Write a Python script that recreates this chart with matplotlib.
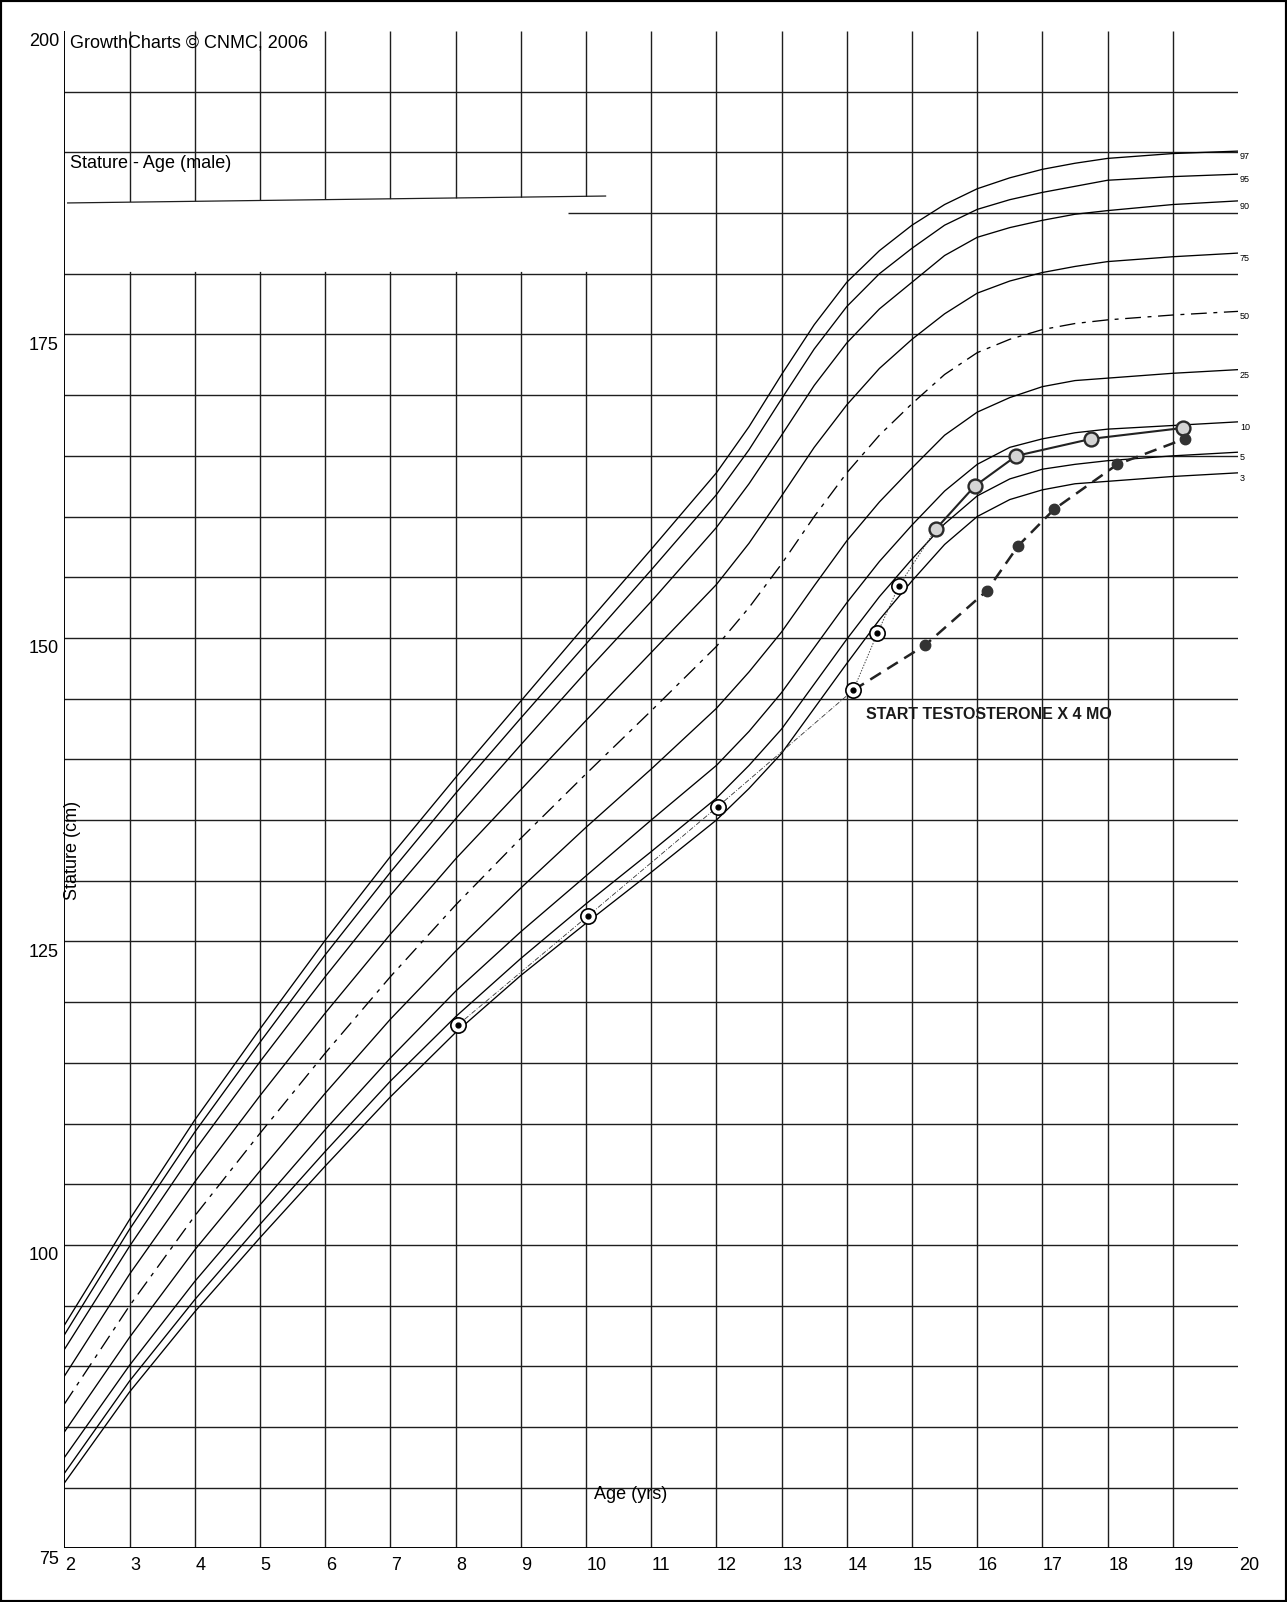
import matplotlib
matplotlib.use("Agg")
import matplotlib.pyplot as plt
from matplotlib.patches import Polygon, Rectangle

plt.rcParams['font.family'] = ['Liberation Sans', 'DejaVu Sans']

# CDC stature-for-age (male)
ages = [2, 3, 4, 5, 6, 7, 8, 9, 10, 11, 12, 12.5, 13, 13.5, 14, 14.5, 15, 15.5,
        16, 16.5, 17, 17.5, 18, 19, 20]
p3 = [80.4, 87.9, 94.5, 100.6, 106.5, 112.2, 117.5, 122.2, 126.5, 130.7, 135.0, 137.6, 140.5,
      144.2, 147.9, 151.5, 154.7, 157.7, 160.0, 161.4, 162.2, 162.7, 162.9, 163.3, 163.6]
p5 = [81.2, 88.8, 95.5, 101.7, 107.7, 113.5, 118.8, 123.6, 128.1, 132.4, 136.8, 139.5, 142.5,
      146.2, 149.9, 153.4, 156.5, 159.4, 161.7, 163.1, 163.9, 164.3, 164.6, 165.0, 165.3]
p10 = [82.5, 90.1, 97.0, 103.3, 109.5, 115.4, 120.9, 125.8, 130.4, 135.0, 139.5, 142.3, 145.5,
       149.2, 152.9, 156.3, 159.3, 162.1, 164.3, 165.7, 166.4, 166.9, 167.2, 167.5, 167.8]
p25 = [84.6, 92.4, 99.6, 106.1, 112.5, 118.6, 124.2, 129.4, 134.4, 139.2, 144.2, 147.2, 150.5,
       154.3, 158.0, 161.2, 164.0, 166.7, 168.6, 169.8, 170.7, 171.2, 171.4, 171.8, 172.1]
p50 = [86.9, 95.0, 102.4, 109.2, 115.8, 122.1, 128.0, 133.5, 138.8, 144.0, 149.3, 152.5, 156.1,
       160.0, 163.6, 166.7, 169.3, 171.7, 173.5, 174.6, 175.4, 175.9, 176.2, 176.6, 176.9]
p75 = [89.2, 97.6, 105.2, 112.3, 119.1, 125.6, 131.8, 137.5, 143.2, 148.8, 154.4, 157.8, 161.7,
       165.7, 169.2, 172.2, 174.6, 176.7, 178.4, 179.4, 180.1, 180.6, 181.0, 181.4, 181.7]
p90 = [91.4, 99.9, 107.8, 115.1, 122.1, 128.8, 135.1, 141.2, 147.2, 153.0, 159.1, 162.7, 166.7,
       170.8, 174.3, 177.1, 179.3, 181.5, 183.0, 183.8, 184.4, 184.9, 185.2, 185.7, 186.0]
p95 = [92.6, 101.3, 109.3, 116.7, 123.9, 130.7, 137.2, 143.4, 149.5, 155.6, 161.8, 165.5, 169.7,
       173.8, 177.3, 180.0, 182.1, 184.0, 185.3, 186.1, 186.7, 187.2, 187.7, 188.0, 188.2]
p97 = [93.4, 102.1, 110.3, 117.8, 125.1, 132.0, 138.5, 144.8, 151.1, 157.3, 163.6, 167.4, 171.7,
       175.8, 179.3, 181.9, 184.0, 185.7, 187.0, 187.9, 188.6, 189.1, 189.5, 189.9, 190.1]
pct_names = ["3", "5", "10", "25", "50", "75", "90", "95", "97"]

# patient measurements
circle_age = [8.03, 10.03, 12.02, 14.10, 14.47, 14.80, 15.37, 15.96, 16.60, 17.75, 19.16]
circle_ht = [118.1, 127.1, 136.1, 145.7, 150.4, 154.3, 159.0, 162.5, 165.0, 166.4, 167.3]
dot_age = [14.10, 15.20, 16.15, 16.63, 17.18, 18.15, 19.18]
dot_ht = [145.7, 149.4, 153.9, 157.6, 160.6, 164.3, 166.4]

x_ticks = list(range(2, 21))
y_ticks = [75, 100, 125, 150, 175, 200]

fig = plt.figure(figsize=(12.87, 16.02), dpi=100)
ax = fig.add_axes([0.05004, 0.0334, 0.9119, 0.9473])
ax.set_xlim(2, 20)
ax.set_ylim(75, 200)
ax.set_axis_off()

grid_c = "#1e1e1e"
# horizontal grid (185 line only on the right side)
for y in range(80, 200, 5):
    if y == 185:
        ax.hlines(y, 9.72, 20, color=grid_c, lw=1.0, zorder=3)
    else:
        ax.hlines(y, 2, 20, color=grid_c, lw=1.0, zorder=1)
for x in range(3, 20):
    ax.vlines(x, 75, 200, color=grid_c, lw=1.0, zorder=1)
# axis lines
ax.vlines(2, 75, 200, color="black", lw=1.4, zorder=5)
ax.hlines(75, 2, 20, color="black", lw=1.4, zorder=5)

# whited-out strip under the title
white = Polygon([(2.03, 180.15), (10.45, 180.15), (10.45, 186.35), (2.03, 185.85)],
                closed=True, fc="white", ec="none", zorder=2)
ax.add_patch(white)
ax.plot([2.05, 10.3], [185.83, 186.4], color=grid_c, lw=0.9, zorder=3)

# percentile curves
curves = [p3, p5, p10, p25, p50, p75, p90, p95, p97]
for name, vals in zip(pct_names, curves):
    if name == "50":
        ax.plot(ages, vals, color="black", lw=0.95, ls=(0, (12, 5, 3, 5)), zorder=4)
    else:
        ax.plot(ages, vals, color="black", lw=0.95, zorder=4)
    ax.text(20.03, vals[-1] - 0.45, name, fontsize=6.5, ha="left", va="center")

# patient lines
ax.plot(circle_age[:4], circle_ht[:4], color="#333333", lw=0.6, ls=(0, (6, 2, 1, 2)), zorder=5)
ax.plot(circle_age[3:7], circle_ht[3:7], color="#444444", lw=0.7, ls=(0, (1.5, 1.5)), zorder=5)
ax.plot(circle_age[6:], circle_ht[6:], color="#222222", lw=1.5, zorder=5)
ax.plot(dot_age, dot_ht, color="#222222", lw=1.8, ls=(0, (5, 3)), zorder=5)

# markers
ax.plot(circle_age[:6], circle_ht[:6], "o", ms=11, mfc="white", mec="black", mew=1.2, zorder=6)
ax.plot(circle_age[6:], circle_ht[6:], "o", ms=10, mfc="#d4d4d4", mec="#2a2a2a", mew=1.7, zorder=6)
ax.plot(circle_age[:6], circle_ht[:6], "o", ms=3.5, color="black", zorder=7)
ax.plot(dot_age[1:], dot_ht[1:], "o", ms=7.5, color="#333333", zorder=6)

# tick labels
for v in y_ticks:
    ax.text(1.917, v - 0.9, str(v), fontsize=13, ha="right", va="center", clip_on=False)
for v in x_ticks:
    ax.text(v + 0.01, 73.6, str(v), fontsize=13, ha="left", va="center", clip_on=False)

ax.text(2.086, 199.0, "GrowthCharts \u00a9 CNMC, 2006", fontsize=13, ha="left", va="center")
ax.text(2.086, 189.1, "Stature - Age (male)", fontsize=13, ha="left", va="center")
ax.text(2.125, 132.5, "Stature (cm)", fontsize=13, rotation=90, ha="center", va="center")
ax.text(10.68, 79.46, "Age (yrs)", fontsize=13, ha="center", va="center")
ax.text(14.29, 143.66, "START TESTOSTERONE X 4 MO", fontsize=11.5, fontweight="bold",
        ha="left", va="center", color="#1a1a1a")

# page frame
fig.add_artist(Rectangle((0, 0), 1, 1, transform=fig.transFigure, fill=False,
                         lw=3, ec="black"))

fig.savefig("out.png", dpi=100, facecolor="white")
